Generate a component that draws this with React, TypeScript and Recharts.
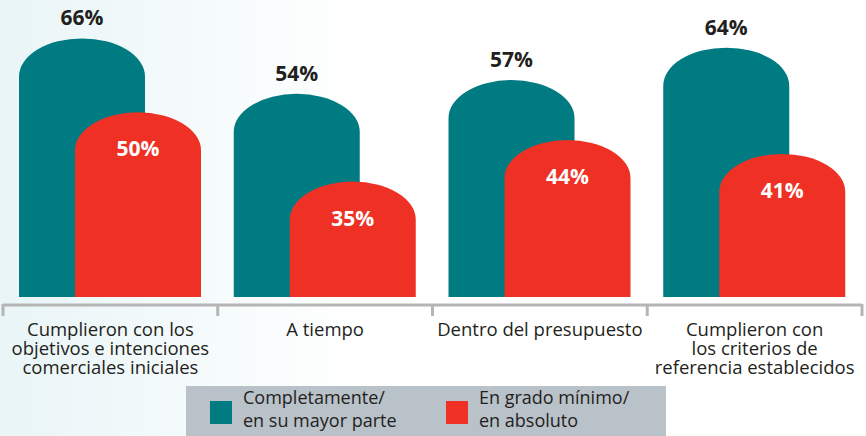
import { BarChart, Bar, XAxis, YAxis, LabelList } from 'recharts'

const CATEGORIES = [
  ['Cumplieron con los', 'objetivos e intenciones', 'comerciales iniciales'],
  ['A tiempo'],
  ['Dentro del presupuesto'],
  ['Cumplieron con', 'los criterios de', 'referencia establecidos'],
]
const COMPLETAMENTE = [66, 54, 57, 64]
const MINIMO = [50, 35, 44, 41]
const BOUNDARY_TICKS = [0, 0.5, 1, 1.5, 2, 2.5, 3, 3.5, 4]

const TEAL = '#007b82'
const RED = '#ee3124'
const INK = '#231f20'
const FONT = '"Open Sans", sans-serif'

const data = CATEGORIES.map((lines, i) => ({
  name: lines.join(' '),
  slot: i + 0.5,
  completamente: COMPLETAMENTE[i],
  minimo: MINIMO[i],
}))

// bar with an elliptical cap instead of circular corners
function CapBar(props: any) {
  const { x, y, width, height, fill } = props
  if (!height || height <= 0) return null
  const ry = Math.min(38, height)
  const rx = width / 2
  const d = `M${x},${y + height} L${x},${y + ry} A${rx},${ry} 0 0 1 ${x + width},${y + ry} L${x + width},${y + height} Z`
  return <path d={d} fill={fill} />
}

function TopLabel(props: any) {
  const { x, y, width, value } = props
  return (
    <text x={x + width / 2} y={y - 13} textAnchor="middle" fill={INK} fontSize={21} fontWeight={700} fontFamily={FONT}>
      {value}%
    </text>
  )
}

function InsideLabel(props: any) {
  const { x, y, width, value } = props
  return (
    <text x={x + width / 2} y={y + 44} textAnchor="middle" fill="#fff" fontSize={21} fontWeight={700} fontFamily={FONT}>
      {value}%
    </text>
  )
}

// integer ticks = separators, half ticks = category labels
function BoundaryTick(props: any) {
  const { x, y, payload } = props
  const v = payload.value
  if (Number.isInteger(v)) {
    return <line x1={x} x2={x} y1={y - 1} y2={y + 11} stroke="#b5b5b5" strokeWidth={3} />
  }
  const lines = CATEGORIES[Math.floor(v)]
  return (
    <g>
      {lines.map((l, i) => (
        <text key={i} x={x} y={y + 31 + i * 19} textAnchor="middle" fill={INK} fontSize={18.5} fontFamily={FONT}>
          {l}
        </text>
      ))}
    </g>
  )
}

function LegendBox() {
  const item = (color: string, left: number, lines: string[]) => (
    <>
      <div style={{ position: 'absolute', left, top: 15, width: 22, height: 23, background: color }} />
      <div style={{ position: 'absolute', left: left + 33, top: 0, fontSize: 18, lineHeight: '23px', color: INK, fontFamily: FONT }}>
        {lines.map((l) => (
          <div key={l}>{l}</div>
        ))}
      </div>
    </>
  )
  return (
    <div style={{ position: 'absolute', left: 186, top: 386, width: 480, height: 50, background: '#b9c1c9' }}>
      {item(TEAL, 24, ['Completamente/', 'en su mayor parte'])}
      {item(RED, 260, ['En grado mínimo/', 'en absoluto'])}
    </div>
  )
}

export default function App() {
  return (
    <div
      style={{
        position: 'absolute',
        left: 0,
        top: 0,
        width: 866,
        height: 436,
        overflow: 'hidden',
        background: 'linear-gradient(to right, #e9f5f7 0%, #ffffff 42%)',
      }}
    >
      <BarChart
        width={866}
        height={436}
        data={data}
        margin={{ top: 20, right: 4, left: 3, bottom: 0 }}
        barSize={126}
        barGap={-70}
      >
        <XAxis xAxisId="cat" dataKey="name" height={8} tick={false} axisLine={false} tickLine={false} />
        <XAxis
          xAxisId="sep"
          dataKey="slot"
          type="number"
          domain={[0, 4]}
          allowDataOverflow
          ticks={BOUNDARY_TICKS}
          interval={0}
          height={131}
          axisLine={{ stroke: '#b5b5b5', strokeWidth: 3 }}
          tickLine={false}
          tickSize={0}
          tickMargin={0}
          tick={<BoundaryTick />}
        />
        <YAxis hide domain={[10, 70]} />
        <Bar xAxisId="cat" dataKey="completamente" fill={TEAL} shape={<CapBar />} isAnimationActive={false}>
          <LabelList dataKey="completamente" content={<TopLabel />} />
        </Bar>
        <Bar xAxisId="cat" dataKey="minimo" fill={RED} shape={<CapBar />} isAnimationActive={false}>
          <LabelList dataKey="minimo" content={<InsideLabel />} />
        </Bar>
      </BarChart>
      <LegendBox />
    </div>
  )
}
